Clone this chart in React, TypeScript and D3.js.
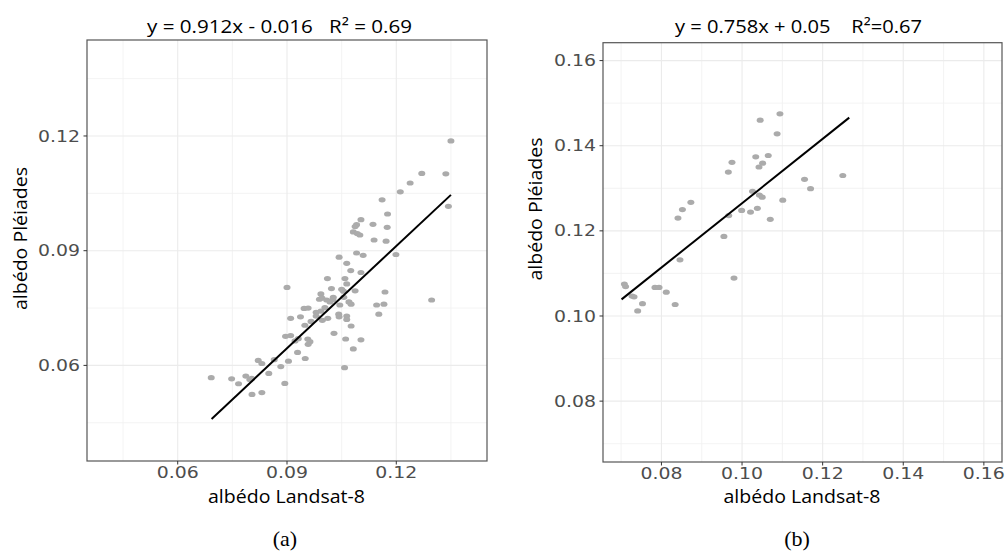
import React from "react";
import * as d3 from "d3";

// Panel (a): albédo Landsat-8 (x) vs albédo Pléiades (y)
const A_X = [0.1350, 0.1270, 0.1336, 0.1238, 0.1211, 0.1161, 0.1343, 0.1176, 0.1103, 0.1091,
  0.1087, 0.1136, 0.1175, 0.1082, 0.1093, 0.1100, 0.1139, 0.1172, 0.1091, 0.1109,
  0.1199, 0.1043, 0.1064, 0.1075, 0.1103, 0.1011, 0.1059, 0.0900, 0.1022, 0.1064,
  0.1050, 0.1055, 0.1087, 0.1169, 0.0993, 0.1027, 0.0989, 0.0996, 0.1009, 0.1018,
  0.1026, 0.1056, 0.1070, 0.1076, 0.1297, 0.1146, 0.1166, 0.1045, 0.1004, 0.0947,
  0.0958, 0.0980, 0.0993, 0.1152, 0.1042, 0.1064, 0.1043, 0.1064, 0.0980, 0.0937,
  0.0910, 0.1012, 0.0997, 0.0966, 0.0949, 0.1076, 0.1029, 0.0896, 0.0910, 0.0931,
  0.0922, 0.1061, 0.1103, 0.0957, 0.0963, 0.0958, 0.1082, 0.0929, 0.0950, 0.0821,
  0.0865, 0.0831, 0.0904, 0.0883, 0.1058, 0.0850, 0.0692, 0.0748, 0.0787, 0.0798,
  0.0767, 0.0894, 0.0804, 0.0831, 0.0803];
const A_Y = [0.1187, 0.1102, 0.1101, 0.1077, 0.1054, 0.1033, 0.1016, 0.0996, 0.0981, 0.0968,
  0.0963, 0.0969, 0.0961, 0.0949, 0.0945, 0.0941, 0.0928, 0.0925, 0.0894, 0.0888,
  0.0890, 0.0883, 0.0867, 0.0848, 0.0843, 0.0827, 0.0827, 0.0804, 0.0801, 0.0813,
  0.0799, 0.0794, 0.0795, 0.0792, 0.0787, 0.0778, 0.0773, 0.0776, 0.0771, 0.0766,
  0.0772, 0.0778, 0.0766, 0.0760, 0.0771, 0.0758, 0.0760, 0.0758, 0.0751, 0.0749,
  0.0750, 0.0739, 0.0742, 0.0734, 0.0734, 0.0729, 0.0727, 0.0720, 0.0729, 0.0727,
  0.0723, 0.0723, 0.0718, 0.0715, 0.0705, 0.0703, 0.0684, 0.0676, 0.0678, 0.0670,
  0.0664, 0.0669, 0.0667, 0.0669, 0.0662, 0.0655, 0.0643, 0.0634, 0.0618, 0.0613,
  0.0615, 0.0605, 0.0611, 0.0597, 0.0594, 0.0579, 0.0568, 0.0565, 0.0572, 0.0563,
  0.0552, 0.0553, 0.0524, 0.0529, 0.0566];
const A_LINE_X = [0.0693, 0.1350];
const A_LINE_Y = [0.0460, 0.1046];
const A_TICKS = [0.06, 0.09, 0.12];
const A_MINOR = [0.045, 0.075, 0.105, 0.135];
const A_TITLE = "y = 0.912x - 0.016   R² = 0.69";

// Panel (b)
const B_X = [0.1094, 0.1045, 0.1087, 0.0975, 0.1034, 0.1065, 0.1051, 0.1042, 0.0966, 0.1155,
  0.1250, 0.1170, 0.1026, 0.1043, 0.1050, 0.1101, 0.0873, 0.0852, 0.0999, 0.1021,
  0.1038, 0.0841, 0.0967, 0.1070, 0.0955, 0.0846, 0.0980, 0.0708, 0.0711, 0.0727,
  0.0732, 0.0784, 0.0794, 0.0812, 0.0753, 0.0834, 0.0741];
const B_Y = [0.1475, 0.1460, 0.1428, 0.1361, 0.1374, 0.1377, 0.1359, 0.1350, 0.1338, 0.1321,
  0.1330, 0.1299, 0.1293, 0.1284, 0.1279, 0.1272, 0.1267, 0.1250, 0.1248, 0.1244,
  0.1253, 0.1230, 0.1236, 0.1227, 0.1187, 0.1132, 0.1089, 0.1075, 0.1069, 0.1047,
  0.1045, 0.1067, 0.1067, 0.1056, 0.1029, 0.1027, 0.1012];
const B_LINE_X = [0.0701, 0.1266];
const B_LINE_Y = [0.1039, 0.1466];
const B_TICKS = [0.08, 0.10, 0.12, 0.14, 0.16];
const B_MINOR = [0.07, 0.09, 0.11, 0.13, 0.15];
const B_TITLE = "y = 0.758x + 0.05    R²=0.67";

const X_LABEL = "albédo Landsat-8";
const Y_LABEL = "albédo Pléiades";

type PanelProps = {
  xs: number[]; ys: number[]; lx: number[]; ly: number[];
  ticks: number[]; minor: number[];
  xDomain: [number, number]; yDomain: [number, number];
  left: number; right: number; top: number; bottom: number;
  title: string; titleX: number; titleW: number;
  yLabelX: number; yLabelY: number; fmt: (v: number) => string;
};

const TICK_FONT = "'DejaVu Sans', sans-serif";
const LABEL_FONT = "'Open Sans', 'DejaVu Sans', sans-serif";

function Panel(p: PanelProps) {
  const x = d3.scaleLinear().domain(p.xDomain).range([p.left, p.right]);
  const y = d3.scaleLinear().domain(p.yDomain).range([p.bottom, p.top]);
  const line = d3.line<number>().x((d, i) => x(p.lx[i])).y((d) => y(d));
  const inX = (v: number) => x(v) >= p.left && x(v) <= p.right;
  const inY = (v: number) => y(v) >= p.top && y(v) <= p.bottom;
  const cx = (p.left + p.right) / 2;
  return (
    <g>
      <rect x={p.left} y={p.top} width={p.right - p.left} height={p.bottom - p.top} fill="#fff" />
      {p.minor.filter(inX).map((v) => (
        <line key={"mx" + v} x1={x(v)} x2={x(v)} y1={p.top} y2={p.bottom} stroke="#f0f0f0" strokeWidth={0.8} />
      ))}
      {p.minor.filter(inY).map((v) => (
        <line key={"my" + v} y1={y(v)} y2={y(v)} x1={p.left} x2={p.right} stroke="#f0f0f0" strokeWidth={0.8} />
      ))}
      {p.ticks.filter(inX).map((v) => (
        <line key={"gx" + v} x1={x(v)} x2={x(v)} y1={p.top} y2={p.bottom} stroke="#ebebeb" strokeWidth={1.1} />
      ))}
      {p.ticks.filter(inY).map((v) => (
        <line key={"gy" + v} y1={y(v)} y2={y(v)} x1={p.left} x2={p.right} stroke="#ebebeb" strokeWidth={1.1} />
      ))}
      {p.xs.map((v, i) => (
        <ellipse key={"pt" + i} cx={x(v)} cy={y(p.ys[i])} rx={3.5} ry={2.6} fill="#ababab" />
      ))}
      <path d={line(p.ly) || ""} stroke="#000" strokeWidth={2} fill="none" />
      <rect x={p.left} y={p.top} width={p.right - p.left} height={p.bottom - p.top} fill="none" stroke="#555" strokeWidth={1.2} />
      {p.ticks.filter(inX).map((v) => (
        <g key={"tx" + v}>
          <line x1={x(v)} x2={x(v)} y1={p.bottom} y2={p.bottom + 3.5} stroke="#333" strokeWidth={1} />
          <text x={x(v)} y={p.bottom + 17} textAnchor="middle" fontFamily={TICK_FONT} fontSize={15.5}
            fill="#4d4d4d" textLength={42} lengthAdjust="spacingAndGlyphs">{p.fmt(v)}</text>
        </g>
      ))}
      {p.ticks.filter(inY).map((v) => (
        <g key={"ty" + v}>
          <line x1={p.left - 3.5} x2={p.left} y1={y(v)} y2={y(v)} stroke="#333" strokeWidth={1} />
          <text x={p.left - 49} y={y(v) + 5.6} textAnchor="start" fontFamily={TICK_FONT} fontSize={15.5}
            fill="#4d4d4d" textLength={42} lengthAdjust="spacingAndGlyphs">{p.fmt(v)}</text>
        </g>
      ))}
      <text x={p.titleX} y={33} textAnchor="start" fontFamily={LABEL_FONT} fontSize={18.5} fill="#000"
        textLength={p.titleW} lengthAdjust="spacingAndGlyphs" xmlSpace="preserve"
        style={{ whiteSpace: "pre" }}>{p.title}</text>
      <text x={cx - 79} y={503} textAnchor="start" fontFamily={LABEL_FONT} fontSize={19} fill="#000"
        textLength={157} lengthAdjust="spacingAndGlyphs">{X_LABEL}</text>
      <text transform={`translate(${p.yLabelX},${p.yLabelY}) rotate(-90)`} x={-71.5} y={0} textAnchor="start"
        fontFamily={LABEL_FONT} fontSize={19} fill="#000" textLength={143} lengthAdjust="spacingAndGlyphs">{Y_LABEL}</text>
    </g>
  );
}

export default function App() {
  const f2 = d3.format(".2f");
  return (
    <svg width={1006} height={553} style={{ position: "absolute", left: 0, top: 0, background: "#fff" }}>
      <rect x={0} y={0} width={1006} height={553} fill="#fff" />
      <Panel xs={A_X} ys={A_Y} lx={A_LINE_X} ly={A_LINE_Y} ticks={A_TICKS} minor={A_MINOR}
        xDomain={[0.0351, 0.1449]} yDomain={[0.035, 0.1451]}
        left={87} right={487} top={40} bottom={461}
        title={A_TITLE} titleX={147} titleW={265} yLabelX={26.5} yLabelY={238.5} fmt={f2} />
      <Panel xs={B_X} ys={B_Y} lx={B_LINE_X} ly={B_LINE_Y} ticks={B_TICKS} minor={B_MINOR}
        xDomain={[0.0655, 0.1645]} yDomain={[0.0657, 0.1642]}
        left={603} right={1002} top={42.7} bottom={462}
        title={B_TITLE} titleX={675} titleW={247} yLabelX={541.5} yLabelY={209} fmt={f2} />
      <text x={285} y={546} textAnchor="middle" fontFamily="'Liberation Serif', serif" fontSize={22} fill="#000">(a)</text>
      <text x={797} y={546} textAnchor="middle" fontFamily="'Liberation Serif', serif" fontSize={22} fill="#000">(b)</text>
    </svg>
  );
}
